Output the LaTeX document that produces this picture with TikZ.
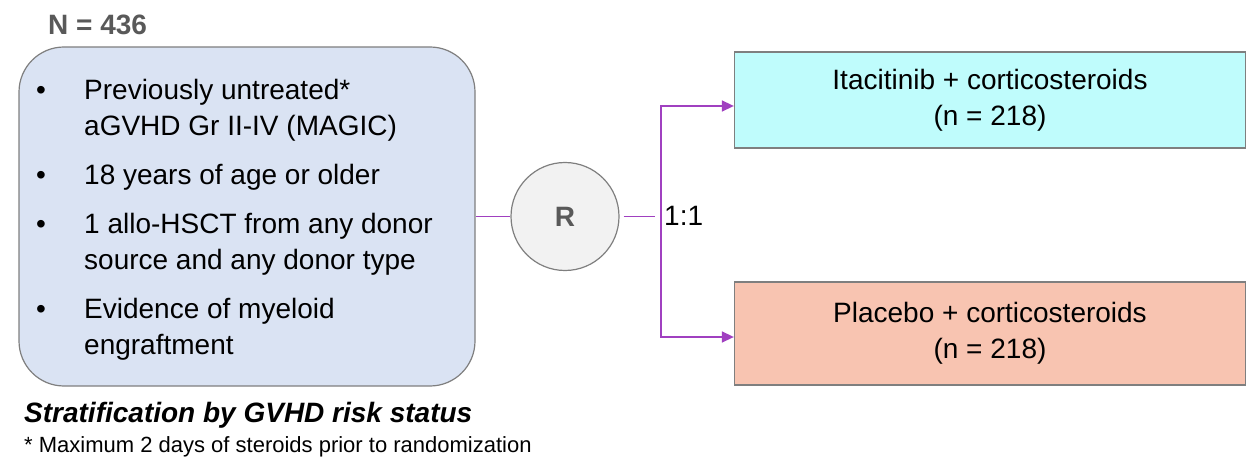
\documentclass[tikz,border=0pt]{standalone}
\usepackage{fontspec}
\setmainfont{Liberation Sans}
\usepackage{tikz}
\usetikzlibrary{arrows.meta,positioning}
\definecolor{CritBG}{HTML}{DAE3F3}
\definecolor{FrameGray}{HTML}{7F7F7F}
\definecolor{RandBG}{HTML}{F2F2F2}
\definecolor{ItaBG}{HTML}{BFFCFC}
\definecolor{PlaBG}{HTML}{F8C4B1}
\definecolor{LinkPurple}{HTML}{A040C0}
\definecolor{HeadGray}{HTML}{595959}
\newcommand{\bigtext}{\fontsize{28}{36}\selectfont}

\begin{document}
\begin{tikzpicture}[x=1pt, y=-1pt, every node/.style={font=\bigtext, inner sep=0pt},
  link/.style={LinkPurple, line width=1.5pt},
  armbox/.style={draw=FrameGray, line width=1.3pt, minimum width=511pt, align=center}]
  \useasboundingbox (0,0) rectangle (1248,457);
  \node[font=\bigtext\bfseries, HeadGray, anchor=base west] (total) at (48,35) {N = 436};
  \node[draw=FrameGray, line width=1.2pt, fill=CritBG, rounded corners=45pt,
    minimum width=456pt, minimum height=339pt] (crit) at (247,216.5) {};
  \node[anchor=base west] (critlist) at (36,100) {\begin{tabular}[t]{@{}p{48pt}@{}l@{}}
    • & Previously untreated*\\ & aGVHD Gr II-IV (MAGIC)\\[13pt]
    • & 18 years of age or older\\[13pt]
    • & 1 allo-HSCT from any donor\\ & source and any donor type\\[13pt]
    • & Evidence of myeloid\\ & engraftment
  \end{tabular}};
  \node[font=\fontsize{28}{34}\selectfont\bfseries\itshape, anchor=base west]
    (strat) at (24,422) {Stratification by GVHD risk status};
  \node[font=\fontsize{22}{26}\selectfont, anchor=base west]
    (foot) at (24,452) {* Maximum 2 days of steroids prior to randomization};
  \node[circle, draw=FrameGray, line width=1.2pt, fill=RandBG, minimum size=108pt,
    font=\bigtext\bfseries, text=HeadGray] (rand) at (565,216.5) {R};
  \node[armbox, fill=ItaBG, minimum height=96pt] (ita) at (990,100)
    {Itacitinib + corticosteroids\\(n = 218)};
  \node[armbox, fill=PlaBG, minimum height=103pt] (pla) at (990,333.5)
    {Placebo + corticosteroids\\(n = 218)};
  \coordinate (split) at (655,216.5);
  \coordinate (upper) at (661,106);
  \coordinate (lower) at (661,337);
  \node[anchor=west] (ratio) at (664,216) {1:1};
  \draw[link] (crit.east) -- (rand.west);
  \draw[link, shorten <=4pt] (rand.east) -- (split);
  \draw[link, {Triangle[length=12pt,width=11pt]}-{Triangle[length=12pt,width=11pt]}]
    (upper -| ita.west) -- (upper) -- (lower) -- (lower -| pla.west);
\end{tikzpicture}
\end{document}
